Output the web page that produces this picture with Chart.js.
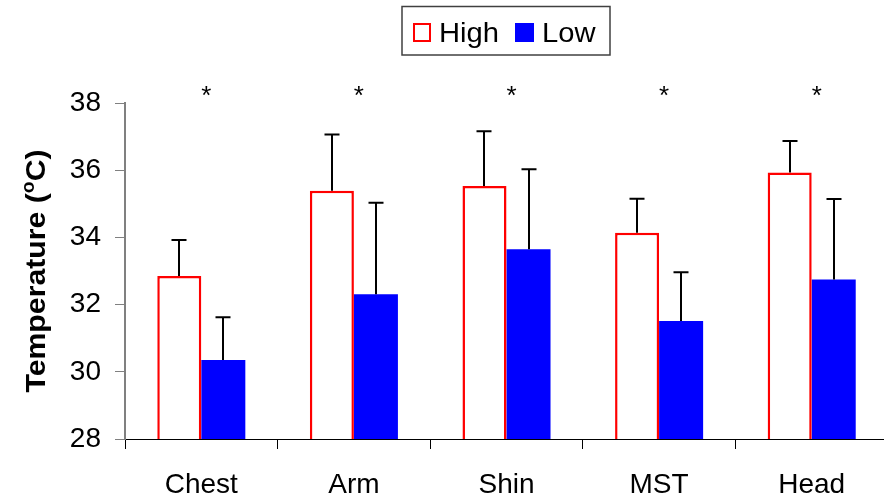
<!DOCTYPE html>
<html>
<head>
<meta charset="utf-8">
<script src="https://cdn.jsdelivr.net/npm/chart.js@4.4.1/dist/chart.umd.min.js"></script>
<style>
  html, body { margin: 0; padding: 0; background: #ffffff; overflow: hidden; }
  #wrap { width: 890px; height: 497px; }
</style>
</head>
<body>
<div id="wrap"><canvas id="c" width="890" height="497"></canvas></div>
<script>
// ---- data ----
const categories = ['Chest', 'Arm', 'Shin', 'MST', 'Head'];
const seriesNames = ['High', 'Low'];
const highMean = [32.85, 35.39, 35.53, 34.14, 35.93];
const highErr  = [1.07, 1.67, 1.63, 1.01, 0.94];
const lowMean  = [30.35, 32.31, 33.65, 31.51, 32.75];
const lowErr   = [1.27, 2.72, 2.38, 1.45, 2.39];
const significance = ['*', '*', '*', '*', '*'];
const yTicks = [28, 30, 32, 34, 36, 38];
const yTitleMain = 'Temperature (';
const yTitleSup = 'o';
const yTitleEnd = 'C)';

const FONT = '"Liberation Sans", Arial, sans-serif';

const errorBarPlugin = {
  id: 'errorBars',
  afterDatasetsDraw(chart) {
    const ctx = chart.ctx;
    const yScale = chart.scales.y;
    const errs = [highErr, lowErr];
    ctx.save();
    ctx.strokeStyle = '#000000';
    ctx.lineWidth = 2;
    chart.data.datasets.forEach((ds, di) => {
      const meta = chart.getDatasetMeta(di);
      meta.data.forEach((bar, i) => {
        const top = yScale.getPixelForValue(ds.data[i] + errs[di][i]);
        const x = Math.round(bar.x);
        ctx.beginPath();
        ctx.moveTo(x, bar.y);
        ctx.lineTo(x, top);
        ctx.moveTo(x - 7.5, top);
        ctx.lineTo(x + 7.5, top);
        ctx.stroke();
      });
    });
    ctx.restore();
  }
};

const decorPlugin = {
  id: 'decor',
  afterDraw(chart) {
    const ctx = chart.ctx;
    const xScale = chart.scales.x;
    const area = chart.chartArea;
    ctx.save();
    // significance stars
    ctx.fillStyle = '#000000';
    ctx.font = '26px ' + FONT;
    ctx.textAlign = 'center';
    ctx.textBaseline = 'alphabetic';
    significance.forEach((s, i) => {
      const x = xScale.getPixelForValue(i);
      ctx.fillText(s, x + 5, area.top + 1);
    });

    // legend box
    ctx.strokeStyle = '#404040';
    ctx.lineWidth = 1.5;
    ctx.strokeRect(402, 6.5, 208, 48.5);
    // High swatch
    ctx.strokeStyle = '#ff0000';
    ctx.lineWidth = 2;
    ctx.strokeRect(414, 24, 16, 17);
    ctx.fillStyle = '#0000ff';
    ctx.fillRect(515, 23, 19, 19);
    ctx.fillStyle = '#000000';
    ctx.font = '27px ' + FONT;
    ctx.textAlign = 'left';
    ctx.textBaseline = 'alphabetic';
    ctx.save();
    ctx.translate(439, 42);
    ctx.scale(1.08, 1);
    ctx.fillText(seriesNames[0], 0, 0);
    ctx.restore();
    ctx.save();
    ctx.translate(542, 42);
    ctx.scale(1.08, 1);
    ctx.fillText(seriesNames[1], 0, 0);
    ctx.restore();

    // y-axis title with superscript o
    const cy = (area.top + area.bottom) / 2;
    ctx.save();
    ctx.translate(45, cy);
    ctx.rotate(-Math.PI / 2);
    ctx.scale(1.08, 1);
    const fMain = 'bold 28px ' + FONT;
    const fSup = 'bold 18px ' + FONT;
    ctx.font = fMain;
    const w1 = ctx.measureText(yTitleMain).width;
    const w3 = ctx.measureText(yTitleEnd).width;
    ctx.font = fSup;
    const w2 = ctx.measureText(yTitleSup).width;
    const total = w1 + w2 + w3;
    let x = -total / 2;
    ctx.textAlign = 'left';
    ctx.font = fMain;
    ctx.fillText(yTitleMain, x, 0);
    x += w1;
    ctx.font = fSup;
    ctx.fillText(yTitleSup, x, -11);
    x += w2;
    ctx.font = fMain;
    ctx.fillText(yTitleEnd, x, 0);
    ctx.restore();
    ctx.restore();
  }
};

new Chart(document.getElementById('c'), {
  type: 'bar',
  data: {
    labels: categories,
    datasets: [
      {
        label: seriesNames[0],
        data: highMean,
        backgroundColor: '#ffffff',
        borderColor: '#ff0000',
        borderWidth: 2.5,
        borderSkipped: false
      },
      {
        label: seriesNames[1],
        data: lowMean,
        backgroundColor: '#0000ff',
        borderColor: '#0000ff',
        borderWidth: 0,
        borderSkipped: false
      }
    ]
  },
  options: {
    responsive: false,
    animation: false,
    devicePixelRatio: 1,
    layout: { padding: { top: 103, right: 2, bottom: 0, left: 0 } },
    plugins: {
      legend: { display: false },
      tooltip: { enabled: false },
      title: { display: false }
    },
    datasets: {
      bar: { categoryPercentage: 0.577, barPercentage: 1.0 }
    },
    scales: {
      x: {
        offset: true,
        grid: {
          offset: true,
          drawOnChartArea: false,
          drawTicks: true,
          tickLength: 10,
          color: '#000000',
          lineWidth: 1
        },
        border: { display: true, color: '#000000', width: 1 },
        ticks: {
          color: '#000000',
          font: { family: FONT, size: 28 },
          padding: 19
        },
        afterFit(scale) { scale.height = 58; }
      },
      y: {
        min: 28,
        max: 38,
        afterBuildTicks(scale) { scale.ticks = yTicks.map(v => ({ value: v })); },
        grid: {
          drawOnChartArea: false,
          drawTicks: true,
          tickLength: 10,
          color: '#808080',
          lineWidth: 1
        },
        border: { display: true, color: '#808080', width: 2 },
        ticks: {
          color: '#000000',
          font: { family: FONT, size: 28 },
          padding: 14
        },
        afterFit(scale) { scale.width = 125; }
      }
    }
  },
  plugins: [errorBarPlugin, decorPlugin]
});
</script>
</body>
</html>
